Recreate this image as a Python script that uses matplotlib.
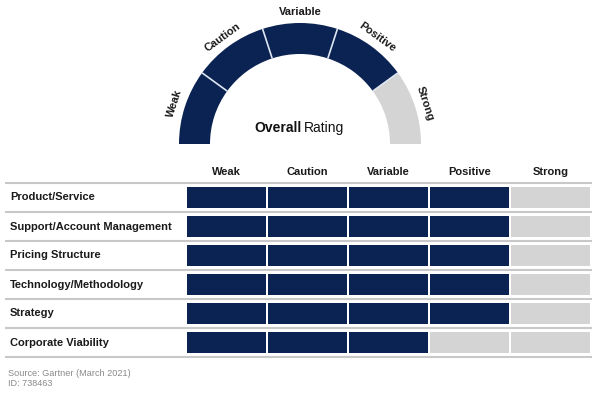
import matplotlib
matplotlib.use('Agg')
from matplotlib import pyplot as plt
from matplotlib.patches import Wedge

plt.rcParams['font.family'] = ['Liberation Sans', 'DejaVu Sans']

levels = ['Weak', 'Caution', 'Variable', 'Positive', 'Strong']
overall = 4
categories = ['Product/Service', 'Support/Account Management', 'Pricing Structure',
              'Technology/Methodology', 'Strategy', 'Corporate Viability']
ratings = [4, 4, 4, 4, 4, 3]
source_lines = ['Source: Gartner (March 2021)', 'ID: 738463']

NAVY = '#0b2352'
GREY = '#d4d4d4'
RULE = '#c8c8c8'
H = 393

fig = plt.figure(figsize=(6, 3.93), dpi=100)
ax = fig.add_axes([0, 0, 1, 1])
ax.set_xlim(0, 600)
ax.set_ylim(0, H)
ax.axis('off')

# gauge
cx, cy = 300, H - 144
r_out, width = 121, 31
step = 180 / len(levels)
for i, name in enumerate(levels):
    t2 = 180 - step * i
    t1 = t2 - step
    col = NAVY if i < overall else GREY
    ax.add_patch(Wedge((cx, cy), r_out, t1, t2, width=width, facecolor=col, edgecolor='none'))
    mid = (t1 + t2) / 2
    import math
    rr = 132
    tx = cx + rr * math.cos(math.radians(mid))
    ty = cy + rr * math.sin(math.radians(mid))
    ax.text(tx, ty, name, rotation=mid - 90, ha='center', va='center',
            fontsize=8, fontweight='bold', color='#1a1a1a', rotation_mode='anchor')
for i in range(1, len(levels)):
    a = math.radians(180 - step * i)
    ax.plot([cx + (r_out - width) * math.cos(a), cx + r_out * math.cos(a)],
            [cy + (r_out - width) * math.sin(a), cy + r_out * math.sin(a)],
            color='#dde6f2', lw=1.2, solid_capstyle='butt')

ax.text(302, H - 128, 'Overall', ha='right', va='center', fontsize=10, fontweight='bold', color='#111111')
ax.text(304, H - 128, 'Rating', ha='left', va='center', fontsize=10, color='#111111')

# table
x0, cw = 187, 81
top_rule = 183
pitch = 29
for j, name in enumerate(levels):
    ax.text(x0 + cw * j + cw / 2 - 1, H - 172, name, ha='center', va='center',
            fontsize=8, fontweight='bold', color='#1a1a1a')

for k in range(len(categories) + 1):
    y = H - (top_rule + pitch * k)
    ax.plot([5, 592], [y, y], color=RULE, lw=1.5, solid_capstyle='butt')

for k, (cat, r) in enumerate(zip(categories, ratings)):
    yc = H - (top_rule + pitch * k + 14.5)
    ax.text(10, yc, cat, ha='left', va='center', fontsize=8, fontweight='bold', color='#1a1a1a')
    lefts = [x0 + cw * j for j in range(len(levels))]
    cols = [NAVY if j < r else GREY for j in range(len(levels))]
    ax.barh([yc] * len(levels), [cw - 2] * len(levels), left=lefts, height=21, color=cols)

for i, s in enumerate(source_lines):
    ax.text(8, H - (374 + 10 * i), s, ha='left', va='center', fontsize=6.6, color='#8a8a8a')

fig.savefig('out.png', dpi=100)
